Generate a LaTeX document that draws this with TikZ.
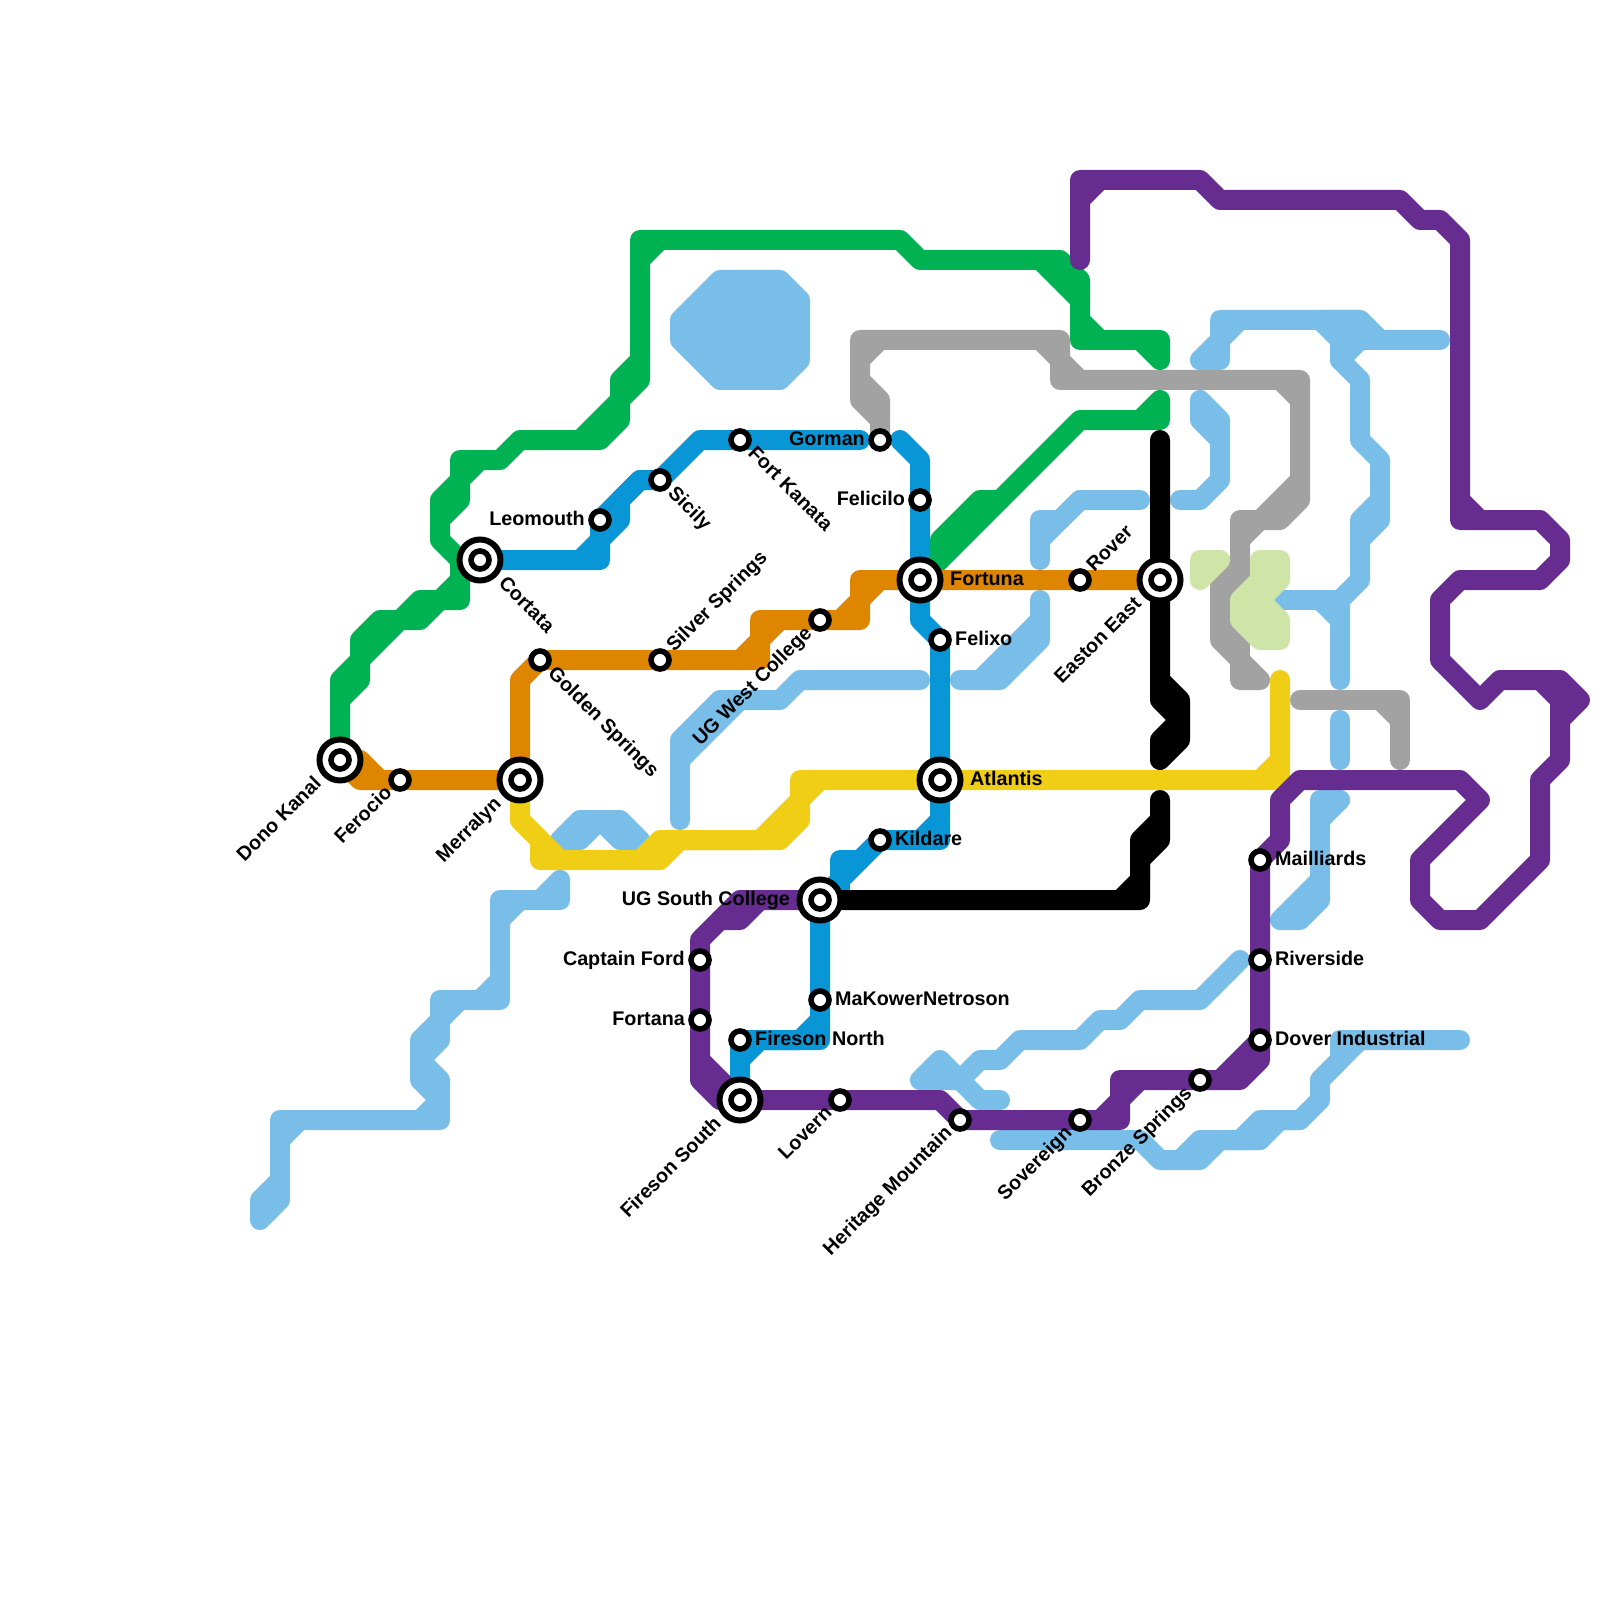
\documentclass[tikz,border=0pt]{standalone}
\usepackage{fontspec}
\setmainfont{Liberation Sans}
\definecolor{lnGreen}{HTML}{00B251}
\definecolor{lnBlue}{HTML}{0896D7}
\definecolor{lnOrange}{HTML}{DF8600}
\definecolor{lnGrey}{HTML}{A2A2A2}
\definecolor{lnPurple}{HTML}{662C90}
\definecolor{lnYellow}{HTML}{F0CE15}
\definecolor{lnSky}{HTML}{79BDE9}
\definecolor{lnLime}{HTML}{CFE4A7}
\tikzset{
  route/.style={line width=2mm, line cap=round, line join=round},
  stop/.style={circle, draw=black, fill=white, line width=.56mm, minimum size=1.8mm, inner sep=0pt},
  hubring/.style={circle, draw=black, fill=white, line width=.6mm, minimum size=4.1mm, inner sep=0pt},
  stname/.style={font=\bfseries\fontsize{5.62}{6.6}\selectfont, text height=1.4mm, text depth=.4mm, inner ysep=0pt, inner xsep=1.45mm},
  hubname/.style={stname, inner xsep=2.95mm},
  up/.style={rotate=45},
  down/.style={rotate=-45}
}
\begin{document}
\begin{tikzpicture}[x=2mm, y=-2mm]
	\path[use as bounding box] (0,0) rectangle (80,80);
	% Stations
	\coordinate (dono) at (17,38);
	\coordinate (ferocio) at (20,39);
	\coordinate (merralyn) at (26,39);
	\coordinate (cortata) at (24,28);
	\coordinate (leomouth) at (30,26);
	\coordinate (sicily) at (33,24);
	\coordinate (golden) at (27,33);
	\coordinate (silver) at (33,33);
	\coordinate (kanata) at (37,22);
	\coordinate (gorman) at (44,22);
	\coordinate (felicilo) at (46,25);
	\coordinate (fortuna) at (46,29);
	\coordinate (felixo) at (47,32);
	\coordinate (westcollege) at (41,31);
	\coordinate (rover) at (54,29);
	\coordinate (easton) at (58,29);
	\coordinate (atlantis) at (47,39);
	\coordinate (kildare) at (44,42);
	\coordinate (southcollege) at (41,45);
	\coordinate (captain) at (35,48);
	\coordinate (fortana) at (35,51);
	\coordinate (makower) at (41,50);
	\coordinate (firnorth) at (37,52);
	\coordinate (firsouth) at (37,55);
	\coordinate (lovern) at (42,55);
	\coordinate (heritage) at (48,56);
	\coordinate (sovereign) at (54,56);
	\coordinate (bronze) at (60,54);
	\coordinate (mailliards) at (63,43);
	\coordinate (riverside) at (63,48);
	\coordinate (dover) at (63,52);

	% Light blue line
	\fill[lnSky, draw=lnSky, route] (36,14) -- (39,14) -- (40,15) -- (40,18) -- (39,19) -- (36,19) -- (34,17) -- (34,16) -- cycle;
	\draw[lnSky, route] (34,41) -- (34,37) -- (36,35) -- (39,35) -- (40,34) -- (46,34);
	\draw[lnSky, route] (34,38) -- (37,35);
	\draw[lnSky, route] (52,30) -- (52,32) -- (50,34) -- (48,34);
	\draw[lnSky, route] (49,34) -- (52,31);
	\draw[lnSky, route] (52,28) -- (52,26) -- (53,26) -- (54,25) -- (57,25);
	\draw[lnSky, route] (52,27) -- (54,25);
	\draw[lnSky, route] (59,25) -- (60,25) -- (61,24) -- (61,21) -- (60,20) -- (60,21) -- (61,22);
	\draw[lnSky, route] (60,18) -- (61,18) -- (61,16) -- (68,16) -- (69,17) -- (72,17);
	\draw[lnSky, route] (60,18) -- (62,16);
	\fill[lnSky, draw=lnSky, route] (66,16) -- (68,16) -- (69,17) -- (68,17) -- (67,18) -- (67,17) -- cycle;
	\draw[lnSky, route] (67,18) -- (68,19) -- (68,22) -- (69,23) -- (69,26) -- (68,27) -- (68,29) -- (67,30) -- (67,34);
	\draw[lnSky, route] (69,25) -- (68,26) -- (68,27);
	\draw[lnSky, route] (64,30) -- (67,30) -- (67,31);
	\draw[lnSky, route] (66,30) -- (67,31);
	\draw[lnSky, route] (67,36) -- (67,38);
	\draw[lnSky, route] (67,40) -- (66,40) -- (66,45) -- (65,46) -- (64,46) -- (66,44);
	\draw[lnSky, route] (67,40) -- (66,41);
	\draw[lnSky, route] (62,48) -- (60,50) -- (57,50) -- (56,51) -- (55,51) -- (54,52) -- (51,52) -- (50,53) -- (49,53) -- (48,54) -- (46,54) -- (47,53) -- (49,55) -- (50,55);
	\draw[lnSky, route] (50,57) -- (57,57) -- (58,58) -- (60,58) -- (61,57) -- (63,57) -- (64,56) -- (65,56) -- (66,55) -- (66,54) -- (68,52) -- (73,52);
	\draw[lnSky, route] (59,58) -- (60,57) -- (63,57);
	\draw[lnSky, route] (62,57) -- (63,56) -- (65,56);
	\draw[lnSky, route] (66,54) -- (67,53) -- (67,52) -- (68,52);
	\draw[lnSky, route] (28,42) -- (29,41) -- (31,41) -- (32,42) -- (31,42) -- (30,41) -- (29,42) -- (28,42);
	\draw[lnSky, route] (28,44) -- (28,45) -- (25,45) -- (25,50) -- (22,50) -- (22,52) -- (21,53) -- (22,54) -- (22,56) -- (14,56) -- (14,60) -- (13,61) -- (13,60) -- (14,59);
	\draw[lnSky, route] (27,45) -- (28,44);
	\draw[lnSky, route] (25,46) -- (26,45);
	\draw[lnSky, route] (25,49) -- (24,50);
	\draw[lnSky, route] (22,51) -- (23,50);
	\draw[lnSky, route] (22,51) -- (21,52) -- (21,54) -- (22,55) -- (21,56);
	\draw[lnSky, route] (14,57) -- (15,56);

	% Grey line
	\draw[lnGrey, route] (gorman) -- (44,21) -- (43,20) -- (43,17) -- (53,17) -- (53,19) -- (65,19) -- (65,25) -- (64,26) -- (62,26) -- (62,28) -- (61,29) -- (61,32) -- (62,33) -- (62,34) -- (63,34) -- (62,33);
	\draw[lnGrey, route] (43,19) -- (44,20) -- (44,21);
	\draw[lnGrey, route] (43,18) -- (44,17);
	\draw[lnGrey, route] (52,17) -- (54,19);
	\draw[lnGrey, route] (64,19) -- (65,20);
	\draw[lnGrey, route] (65,24) -- (63,26);
	\draw[lnGrey, route] (62,27) -- (63,26);
	\draw[lnGrey, route] (62,28) -- (62,33);
	\draw[lnGrey, route] (65,35) -- (70,35) -- (70,38);
	\draw[lnGrey, route] (69,35) -- (70,36);

	% Light green patches
	\fill[lnLime, draw=lnLime, route] (60,28) -- (61,28) -- (60,29) -- cycle;
	\fill[lnLime, draw=lnLime, route] (63,28) -- (64,28) -- (64,29) -- (63,30) -- (64,31) -- (64,32) -- (63,32) -- (62,31) -- (62,30) -- (63,29) -- cycle;

	% Green line
	\draw[lnGreen, route] (dono) -- (17,34) -- (18,33) -- (18,32) -- (19,31) -- (20,31) -- (21,30) -- (23,30) -- (23,28) -- (22,27) -- (22,25) -- (23,24) -- (23,23) -- (25,23) -- (26,22) -- (30,22) -- (31,21) -- (31,19) -- (32,18) -- (32,12) -- (45,12) -- (46,13) -- (53,13) -- (54,14) -- (54,17) -- (58,17) -- (58,18) -- (57,17);
	\draw[lnGreen, route] (17,35) -- (18,34) -- (18,33) -- (20,31) -- (21,31) -- (22,30) -- (23,29);
	\draw[lnGreen, route] (22,26) -- (23,25) -- (23,24) -- (24,23);
	\draw[lnGreen, route] (29,22) -- (31,20) -- (32,19) -- (32,18);
	\draw[lnGreen, route] (32,13) -- (33,12);
	\draw[lnGreen, route] (52,13) -- (54,15);
	\draw[lnGreen, route] (54,16) -- (55,17);
	\draw[lnGreen, route] (fortuna) -- (54,21) -- (58,21) -- (58,20) -- (57,21);
	\draw[lnGreen, route] (47,28) -- (47,27) -- (49,25) -- (50,25);

	% Orange line
	\draw[lnOrange, route] (dono) -- (18,38) -- (19,39) -- (merralyn) -- (26,34) -- (golden) -- (38,33) -- (38,31) -- (43,31) -- (43,29) -- (easton);
	\draw[lnOrange, route] (dono) -- (18,39) -- (19,39);
	\draw[lnOrange, route] (37,33) -- (39,31);
	\draw[lnOrange, route] (42,31) -- (44,29);

	% Yellow line
	\draw[lnYellow, route] (merralyn) -- (26,41) -- (27,42) -- (27,43) -- (33,43) -- (34,42) -- (39,42) -- (40,41) -- (40,39) -- (64,39) -- (64,34);
	\draw[lnYellow, route] (26,41) -- (28,43);
	\draw[lnYellow, route] (32,43) -- (33,42) -- (38,42) -- (41,39);
	\draw[lnYellow, route] (63,39) -- (64,38);

	% Blue line
	\draw[lnBlue, route] (cortata) -- (30,28) -- (30,26) -- (32,24) -- (33,24) -- (35,22) -- (43,22);
	\draw[lnBlue, route] (29,28) -- (31,26) -- (31,25) -- (32,24);
	\draw[lnBlue, route] (45,22) -- (46,23) -- (46,31) -- (47,32) -- (47,42) -- (44,42) -- (southcollege) -- (41,51) -- (41,52) -- (38,52) -- (37,53);
	\draw[lnBlue, route] (47,41) -- (46,42);
	\draw[lnBlue, route] (43,43) -- (42,43) -- (42,45);
	\draw[lnBlue, route] (firsouth) -- (37,52) -- (40,52) -- (41,51);

	% Black line
	\draw[black, route] (58,22) -- (58,34) -- (59,35) -- (59,37) -- (58,38) -- (58,37) -- (59,36) -- (58,35) -- (58,34);
	\draw[black, route] (58,40) -- (58,42) -- (57,43) -- (57,45) -- (southcollege);
	\draw[black, route] (58,41) -- (57,42) -- (57,44) -- (56,45);

	% Purple line
	\draw[lnPurple, route] (54,13) -- (54,9) -- (60,9) -- (61,10) -- (70,10) -- (71,11) -- (72,11) -- (73,12) -- (73,26) -- (77,26) -- (78,27) -- (78,28) -- (77,29) -- (73,29) -- (72,30) -- (72,33) -- (74,35) -- (75,34) -- (78,34) -- (79,35) -- (78,36) -- (78,38) -- (77,39) -- (77,43) -- (74,46) -- (72,46) -- (71,45) -- (71,43) -- (74,40) -- (73,39) -- (65,39) -- (64,40) -- (64,42) -- (63,43) -- (63,53) -- (62,54) -- (56,54) -- (56,56) -- (48,56) -- (47,55) -- (36,55) -- (35,54) -- (35,47) -- (37,45) -- (southcollege);
	\draw[lnPurple, route] (54,10) -- (55,9);
	\draw[lnPurple, route] (73,25) -- (74,26);
	\draw[lnPurple, route] (77,34) -- (78,35) -- (78,36);
	\draw[lnPurple, route] (63,52) -- (61,54);
	\draw[lnPurple, route] (55,56) -- (57,54);
	\draw[lnPurple, route] (35,53) -- (37,55);
	\draw[lnPurple, route] (36,46) -- (37,46) -- (38,45);

	% Markers
	\foreach \s in {ferocio,leomouth,sicily,golden,silver,kanata,gorman,felicilo,felixo,westcollege,rover,kildare,captain,fortana,makower,firnorth,lovern,heritage,sovereign,bronze,mailliards,riverside,dover}
		\node[stop] (\s mark) at (\s) {};
	\foreach \s in {dono,merralyn,cortata,fortuna,easton,atlantis,southcollege,firsouth} {
		\node[hubring] (\s ring) at (\s) {};
		\node[stop] (\s mark) at (\s) {};
	}

	% Names
	\node[hubname, up, anchor=east] (dononame) at (dono) {Dono Kanal};
	\node[stname, up, anchor=east] (ferocioname) at (ferocio) {Ferocio};
	\node[hubname, up, anchor=east] (merralynname) at (merralyn) {Merralyn};
	\node[hubname, down, anchor=west] (cortataname) at (cortata) {Cortata};
	\node[stname, anchor=east] (leomouthname) at (leomouth) {Leomouth};
	\node[stname, down, anchor=west] (sicilyname) at (sicily) {Sicily};
	\node[stname, down, anchor=west] (goldenname) at (golden) {Golden Springs};
	\node[stname, up, anchor=west] (silvername) at (silver) {Silver Springs};
	\node[stname, down, anchor=west] (kanataname) at (kanata) {Fort Kanata};
	\node[stname, anchor=east] (gormanname) at (gorman) {Gorman};
	\node[stname, anchor=east] (feliciloname) at (felicilo) {Felicilo};
	\node[hubname, anchor=west] (fortunaname) at (fortuna) {Fortuna};
	\node[stname, anchor=west] (felixoname) at (felixo) {Felixo};
	\node[stname, up, anchor=east] (westcollegename) at (westcollege) {UG West College};
	\node[stname, up, anchor=west] (rovername) at (rover) {Rover};
	\node[hubname, up, anchor=east] (eastonname) at (easton) {Easton East};
	\node[hubname, anchor=west] (atlantisname) at (atlantis) {Atlantis};
	\node[stname, anchor=west] (kildarename) at (kildare) {Kildare};
	\node[hubname, anchor=east] (southcollegename) at (southcollege) {UG South College};
	\node[stname, anchor=east] (captainname) at (captain) {Captain Ford};
	\node[stname, anchor=east] (fortananame) at (fortana) {Fortana};
	\node[stname, anchor=west] (makowername) at (makower) {MaKowerNetroson};
	\node[stname, anchor=west] (firnorthname) at (firnorth) {Fireson North};
	\node[hubname, up, anchor=east] (firsouthname) at (firsouth) {Fireson South};
	\node[stname, up, anchor=east] (lovernname) at (lovern) {Lovern};
	\node[stname, up, anchor=east] (heritagename) at (heritage) {Heritage Mountain};
	\node[stname, up, anchor=east] (sovereignname) at (sovereign) {Sovereign};
	\node[stname, up, anchor=east] (bronzename) at (bronze) {Bronze Springs};
	\node[stname, anchor=west] (mailliardsname) at (mailliards) {Mailliards};
	\node[stname, anchor=west] (riversidename) at (riverside) {Riverside};
	\node[stname, anchor=west] (dovername) at (dover) {Dover Industrial};
\end{tikzpicture}
\end{document}
